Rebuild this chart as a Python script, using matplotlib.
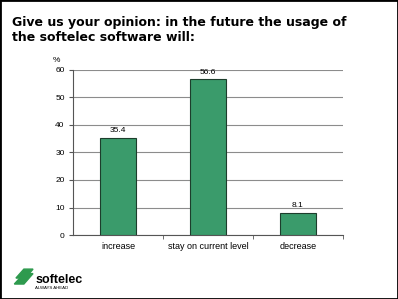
import matplotlib
matplotlib.use("Agg")
import matplotlib.pyplot as plt
from matplotlib.patches import Rectangle, Polygon

categories = ["increase", "stay on current level", "decrease"]
values = [35.4, 56.6, 8.1]
yticks = [0, 10, 20, 30, 40, 50, 60]
title_lines = ["Give us your opinion: in the future the usage of",
               "the softelec software will:"]

plt.rcParams['font.family'] = ['Liberation Sans', 'DejaVu Sans']

fig = plt.figure(figsize=(3.98, 2.99), dpi=100)
fig.patches.append(Rectangle((0, 0), 1, 1, transform=fig.transFigure,
                             fill=False, edgecolor="black", linewidth=2))

for i, line in enumerate(title_lines):
    fig.text(0.03, 1 - (26 + 15 * i) / 299, line, fontsize=9, fontweight="bold",
             family="DejaVu Sans", ha="left", va="baseline")

ax = fig.add_axes([0.1834, 0.214, 0.6784, 0.552])
x = range(len(categories))
ax.bar(x, values, width=0.4, color="#3a9b6b", edgecolor="#1d3d2c", linewidth=0.8, zorder=3)
for xi, v in zip(x, values):
    ax.text(xi, v + 1.2, f"{v:.1f}", ha="center", va="bottom", fontsize=6)

ax.set_xlim(-0.5, 2.5)
ax.set_ylim(0, 60)
ax.set_yticks(yticks)
ax.set_yticklabels([str(t) for t in yticks], fontsize=6)
ax.yaxis.grid(True, color="#8c8c8c", linewidth=0.8)
ax.set_axisbelow(True)
ax.set_xticks(list(x))
ax.set_xticklabels(categories, fontsize=6.5)
ax.tick_params(axis="x", length=0, pad=5)
ax.set_xticks([0.5, 1.5, 2.5], minor=True)
ax.tick_params(axis="x", which="minor", length=3, color="#555555")
ax.tick_params(axis="y", length=3, pad=3, color="#555555")
for s in ["top", "right"]:
    ax.spines[s].set_visible(False)
ax.spines["left"].set_color("#555555")
ax.spines["bottom"].set_color("#555555")
ax.text(-0.06, 1.035, "%", transform=ax.transAxes, fontsize=6, ha="center", va="bottom")

# logo
fig.patches.append(Polygon([(0.036, 0.05), (0.06, 0.05), (0.083, 0.085), (0.06, 0.085)],
                           closed=True, transform=fig.transFigure, color="#2e9a4e"))
fig.patches.append(Polygon([(0.04, 0.07), (0.064, 0.07), (0.083, 0.1), (0.06, 0.1)],
                           closed=True, transform=fig.transFigure, color="#2e9a4e"))
fig.text(0.088, 0.055, "softelec", fontsize=9, fontweight="bold", ha="left", va="baseline")
fig.text(0.088, 0.032, "ALWAYS AHEAD", fontsize=3.2, ha="left", va="baseline")

fig.savefig("out.png", dpi=100)
